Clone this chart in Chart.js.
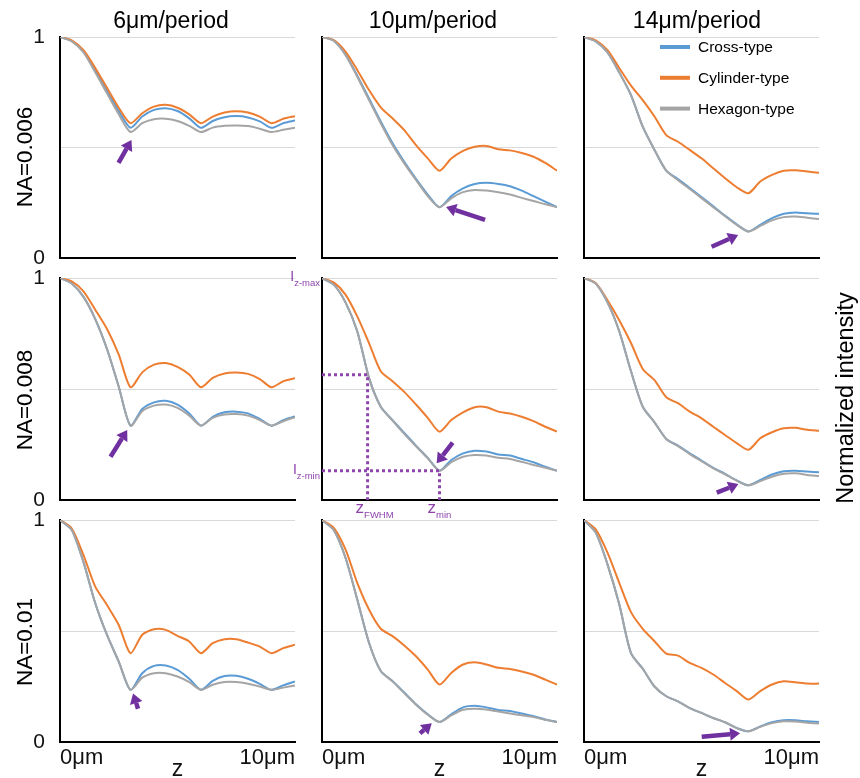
<!DOCTYPE html>
<html>
<head>
<meta charset="utf-8">
<script src="https://cdn.jsdelivr.net/npm/chart.js@4"></script>
<style>
  html,body{margin:0;padding:0;background:#fff;}
  body{width:860px;height:778px;overflow:hidden;position:relative;font-family:"Liberation Sans",Arial,sans-serif;color:#000;}
  canvas{position:absolute;}
  .title{position:absolute;top:9px;font-size:23px;line-height:1;white-space:nowrap;transform:translateX(-50%);}
  .rot{position:absolute;line-height:1;white-space:nowrap;transform:translate(-50%,-50%) rotate(-90deg);}
</style>
</head>
<body>
<script>
// ---------------- DATA ----------------
const zValues = [0,0.5,1,1.5,2,2.5,3,3.5,4,4.5,5,5.5,6,6.5,7,7.5,8,8.5,9,9.5,10];
const periodTitles = ['6μm/period','10μm/period','14μm/period'];
const apertureTitles = ['NA=0.006','NA=0.008','NA=0.01'];
const seriesNames = ['Cross-type','Cylinder-type','Hexagon-type'];
const xTickValues = [0,10];
const xTickLabels = ['0μm','10μm'];
const yTickValues = [0,0.5,1];
const yTickLabels = ['0','','1'];
const xAxisTitle = 'z';
const sideTitle = 'Normalized intensity';

// NA=0.006
const cross_na006_p6  = [1,0.983,0.935,0.85,0.755,0.665,0.589,0.64,0.67,0.678,0.665,0.632,0.589,0.62,0.637,0.642,0.636,0.618,0.589,0.61,0.622];
const cyl_na006_p6    = [1,0.985,0.94,0.86,0.77,0.68,0.61,0.655,0.685,0.693,0.68,0.65,0.61,0.64,0.658,0.664,0.658,0.64,0.61,0.63,0.642];
const hex_na006_p6    = [1,0.98,0.93,0.84,0.745,0.65,0.57,0.61,0.628,0.63,0.62,0.598,0.57,0.59,0.598,0.60,0.597,0.585,0.57,0.58,0.589];
const cross_na006_p10 = [1,0.983,0.92,0.825,0.722,0.618,0.52,0.435,0.358,0.287,0.23,0.28,0.315,0.335,0.34,0.335,0.325,0.305,0.28,0.255,0.23];
const cyl_na006_p10   = [1,0.986,0.934,0.851,0.76,0.682,0.632,0.579,0.511,0.451,0.395,0.45,0.485,0.503,0.507,0.492,0.487,0.475,0.458,0.43,0.395];
const hex_na006_p10   = [1,0.983,0.919,0.82,0.715,0.61,0.511,0.428,0.353,0.28,0.23,0.27,0.298,0.308,0.305,0.298,0.287,0.272,0.258,0.243,0.23];
const cross_na006_p14 = [1,0.98,0.93,0.84,0.737,0.594,0.489,0.395,0.357,0.317,0.276,0.234,0.192,0.152,0.12,0.15,0.18,0.2,0.206,0.202,0.2];
const cyl_na006_p14   = [1,0.985,0.94,0.86,0.78,0.714,0.64,0.556,0.526,0.489,0.451,0.406,0.361,0.32,0.293,0.346,0.376,0.395,0.397,0.391,0.386];
const hex_na006_p14   = [1,0.98,0.93,0.84,0.737,0.594,0.489,0.395,0.352,0.312,0.271,0.23,0.189,0.15,0.12,0.145,0.17,0.185,0.188,0.182,0.176];
// NA=0.008
const cross_na008_p6  = [1,0.975,0.915,0.815,0.68,0.51,0.335,0.41,0.44,0.447,0.43,0.39,0.335,0.375,0.395,0.398,0.39,0.365,0.335,0.36,0.376];
const cyl_na008_p6    = [1,0.985,0.94,0.857,0.77,0.655,0.508,0.575,0.61,0.617,0.60,0.565,0.508,0.55,0.57,0.574,0.568,0.545,0.508,0.535,0.549];
const hex_na008_p6    = [1,0.975,0.915,0.815,0.68,0.51,0.335,0.40,0.425,0.43,0.415,0.38,0.335,0.37,0.385,0.387,0.38,0.36,0.335,0.355,0.373];
const cross_na008_p10 = [1,0.97,0.89,0.76,0.55,0.42,0.36,0.302,0.245,0.19,0.132,0.18,0.21,0.222,0.218,0.205,0.2,0.185,0.17,0.15,0.132];
const cyl_na008_p10   = [1,0.98,0.925,0.827,0.707,0.58,0.535,0.487,0.43,0.37,0.308,0.36,0.395,0.418,0.418,0.398,0.39,0.375,0.355,0.33,0.308];
const hex_na008_p10   = [1,0.97,0.89,0.76,0.55,0.42,0.358,0.298,0.242,0.188,0.132,0.17,0.195,0.203,0.20,0.19,0.185,0.172,0.158,0.145,0.132];
const cross_na008_p14 = [1,0.975,0.89,0.76,0.58,0.42,0.35,0.275,0.245,0.21,0.178,0.145,0.118,0.088,0.066,0.09,0.115,0.13,0.132,0.128,0.125];
const cyl_na008_p14   = [1,0.977,0.90,0.81,0.707,0.59,0.54,0.463,0.436,0.398,0.368,0.33,0.293,0.256,0.226,0.278,0.305,0.323,0.325,0.316,0.312];
const hex_na008_p14   = [1,0.975,0.89,0.76,0.58,0.42,0.35,0.275,0.243,0.207,0.175,0.143,0.116,0.087,0.066,0.085,0.105,0.118,0.12,0.113,0.108];
// NA=0.01
const cross_na010_p6  = [1,0.955,0.81,0.625,0.482,0.362,0.235,0.31,0.343,0.345,0.325,0.285,0.235,0.275,0.297,0.298,0.285,0.262,0.235,0.255,0.273];
const cyl_na010_p6    = [1,0.962,0.842,0.70,0.617,0.527,0.40,0.483,0.508,0.505,0.478,0.453,0.40,0.445,0.463,0.463,0.448,0.43,0.40,0.423,0.438];
const hex_na010_p6    = [1,0.955,0.81,0.625,0.482,0.362,0.235,0.29,0.31,0.31,0.295,0.27,0.235,0.258,0.27,0.27,0.262,0.25,0.235,0.245,0.255];
const cross_na010_p10 = [1,0.955,0.83,0.642,0.447,0.32,0.275,0.223,0.17,0.125,0.09,0.125,0.156,0.163,0.156,0.144,0.14,0.128,0.116,0.101,0.09];
const cyl_na010_p10   = [1,0.965,0.868,0.717,0.597,0.51,0.477,0.435,0.386,0.326,0.259,0.311,0.349,0.359,0.349,0.334,0.329,0.318,0.303,0.281,0.259];
const hex_na010_p10   = [1,0.955,0.83,0.642,0.447,0.32,0.273,0.22,0.168,0.123,0.09,0.12,0.145,0.15,0.146,0.137,0.128,0.12,0.112,0.10,0.09];
const cross_na010_p14 = [1,0.943,0.80,0.62,0.40,0.33,0.25,0.206,0.183,0.153,0.131,0.108,0.089,0.063,0.048,0.07,0.089,0.098,0.098,0.093,0.09];
const cyl_na010_p14   = [1,0.958,0.853,0.717,0.585,0.51,0.454,0.398,0.389,0.356,0.334,0.304,0.266,0.229,0.191,0.229,0.259,0.274,0.269,0.263,0.263];
const hex_na010_p14   = [1,0.943,0.80,0.62,0.40,0.33,0.25,0.206,0.183,0.153,0.131,0.108,0.089,0.063,0.048,0.068,0.085,0.093,0.092,0.087,0.083];

// annotation anchors (data units): [tailZ, tailI, headZ, headI]
const arrow_na006_p6  = [2.49,0.43,3.04,0.534];
const arrow_na006_p10 = [6.94,0.172,5.28,0.231];
const arrow_na006_p14 = [5.43,0.051,6.56,0.104];
const arrow_na008_p6  = [2.15,0.195,2.86,0.315];
const arrow_na008_p10 = [5.56,0.258,4.88,0.165];
const arrow_na008_p14 = [5.65,0.033,6.57,0.072];
const arrow_na010_p6  = [3.32,0.15,3.11,0.219];
const arrow_na010_p10 = [4.17,0.039,4.67,0.084];
const arrow_na010_p14 = [5.01,0.024,6.64,0.039];
// FWHM / minimum guide (NA=0.008, 10μm)
const guideFWHM = [1.94,0.564];
const guideMin  = [5.0,0.132];

// ---------------- LAYOUT / STYLE ----------------
const colors = ['#5B9BD5','#ED7D31','#A5A5A5'];
const FONT = "'Liberation Sans', Arial, sans-serif";
Chart.defaults.font.family = FONT;
Chart.defaults.color = '#000';
const colX = [60,322,584];
const rowY = [37,278,520];
const rowH = [221,222,222];
const areaW = 235;
const PADL = 50, PADT = 12, PADR = 12;
const PURPLE = '#7030A0';
const PURPLE_T = '#8E44AD';

const panels = [
  {r:0,c:0,s:[cross_na006_p6,cyl_na006_p6,hex_na006_p6],arrow:arrow_na006_p6},
  {r:0,c:1,s:[cross_na006_p10,cyl_na006_p10,hex_na006_p10],arrow:arrow_na006_p10},
  {r:0,c:2,s:[cross_na006_p14,cyl_na006_p14,hex_na006_p14],arrow:arrow_na006_p14,legend:true},
  {r:1,c:0,s:[cross_na008_p6,cyl_na008_p6,hex_na008_p6],arrow:arrow_na008_p6},
  {r:1,c:1,s:[cross_na008_p10,cyl_na008_p10,hex_na008_p10],arrow:arrow_na008_p10,guides:true},
  {r:1,c:2,s:[cross_na008_p14,cyl_na008_p14,hex_na008_p14],arrow:arrow_na008_p14},
  {r:2,c:0,s:[cross_na010_p6,cyl_na010_p6,hex_na010_p6],arrow:arrow_na010_p6},
  {r:2,c:1,s:[cross_na010_p10,cyl_na010_p10,hex_na010_p10],arrow:arrow_na010_p10},
  {r:2,c:2,s:[cross_na010_p14,cyl_na010_p14,hex_na010_p14],arrow:arrow_na010_p14}
];

const annotPlugin = {
  id: 'annot',
  afterDatasetsDraw(chart, args, opts) {
    const ctx = chart.ctx, xs = chart.scales.x, ys = chart.scales.y, ca = chart.chartArea;
    const P = (x,y) => [xs.getPixelForValue(x), ys.getPixelForValue(y)];
    ctx.save();
    if (opts.guides) {
      ctx.strokeStyle = PURPLE_T; ctx.lineWidth = 3; ctx.setLineDash([3,3]);
      [guideFWHM, guideMin].forEach(g => {
        const [gx, gy] = P(g[0], g[1]);
        const [x0, y0] = P(0, 0);
        ctx.beginPath(); ctx.moveTo(x0, gy); ctx.lineTo(gx, gy); ctx.lineTo(gx, y0); ctx.stroke();
      });
      ctx.setLineDash([]);
      ctx.fillStyle = PURPLE_T; ctx.textBaseline = 'alphabetic';
      const drawI = (val, sub) => {
        const [, y] = P(0, val);
        ctx.font = '9.5px ' + FONT; ctx.textAlign = 'right';
        const w = ctx.measureText(sub).width;
        ctx.fillText(sub, ca.left - 2, y + 8);
        ctx.font = '14px ' + FONT;
        ctx.fillText('I', ca.left - 2 - w, y + 3);
      };
      drawI(1, 'z-max');
      drawI(guideMin[1], 'z-min');
      const drawZ = (val, sub) => {
        const [x] = P(val, 0);
        const yb = ca.bottom + 13;
        ctx.textAlign = 'left';
        ctx.font = '17px ' + FONT;
        const wz = ctx.measureText('z').width;
        ctx.fillText('z', x - 12, yb);
        ctx.font = '9.5px ' + FONT;
        ctx.fillText(sub, x - 12 + wz, yb + 5);
      };
      drawZ(guideFWHM[0], 'FWHM');
      drawZ(guideMin[0], 'min');
    }
    if (opts.arrow) {
      const a = opts.arrow;
      const [x1, y1] = P(a[0], a[1]);
      const [x2, y2] = P(a[2], a[3]);
      const ang = Math.atan2(y2 - y1, x2 - x1);
      const hl = 10, hw = 6.5;
      const bx = x2 - hl * Math.cos(ang), by = y2 - hl * Math.sin(ang);
      ctx.strokeStyle = PURPLE; ctx.fillStyle = PURPLE; ctx.lineWidth = 4.5; ctx.lineCap = 'butt';
      ctx.beginPath(); ctx.moveTo(x1, y1); ctx.lineTo(bx, by); ctx.stroke();
      ctx.beginPath();
      ctx.moveTo(x2, y2);
      ctx.lineTo(bx + hw * Math.sin(ang), by - hw * Math.cos(ang));
      ctx.lineTo(bx - hw * Math.sin(ang), by + hw * Math.cos(ang));
      ctx.closePath(); ctx.fill();
    }
    if (opts.legend) {
      chart.data.datasets.forEach((ds, i) => {
        const y = ca.top + 10 + i * 30.8;
        ctx.strokeStyle = ds.borderColor; ctx.lineWidth = 4; ctx.lineCap = 'butt';
        ctx.beginPath(); ctx.moveTo(ca.left + 76, y); ctx.lineTo(ca.left + 106, y); ctx.stroke();
        ctx.fillStyle = '#000'; ctx.font = '15.5px ' + FONT; ctx.textAlign = 'left'; ctx.textBaseline = 'middle';
        ctx.fillText(ds.label, ca.left + 114, y + 1);
      });
    }
    ctx.restore();
  }
};

panels.forEach(p => {
  const bottomRow = p.r === 2;
  const xH = bottomRow ? 45 : 22;
  const W = PADL + areaW + PADR;
  const H = PADT + rowH[p.r] + xH;
  const cv = document.createElement('canvas');
  cv.width = W; cv.height = H;
  cv.style.left = (colX[p.c] - PADL) + 'px';
  cv.style.top = (rowY[p.r] - PADT) + 'px';
  cv.style.width = W + 'px'; cv.style.height = H + 'px';
  document.body.appendChild(cv);
  const orders = [3, 2, 1];
  new Chart(cv, {
    type: 'line',
    data: {
      datasets: p.s.map((arr, i) => ({
        label: seriesNames[i],
        data: arr.map((v, k) => ({x: zValues[k], y: v})),
        borderColor: colors[i],
        backgroundColor: colors[i],
        borderWidth: 2,
        pointRadius: 0,
        tension: 0.25,
        fill: false,
        order: orders[i]
      }))
    },
    options: {
      responsive: false,
      maintainAspectRatio: false,
      animation: false,
      devicePixelRatio: 1,
      layout: {padding: {left: 0, top: PADT, right: PADR, bottom: 0}},
      plugins: {
        legend: {display: false},
        tooltip: {enabled: false},
        annot: {arrow: p.arrow, legend: !!p.legend, guides: !!p.guides}
      },
      scales: {
        x: {
          type: 'linear', min: 0, max: 10,
          afterBuildTicks: s => { s.ticks = xTickValues.map(v => ({value: v})); },
          afterFit: s => { s.height = xH; s.paddingLeft = 0; s.paddingRight = 0; },
          grid: {display: false, drawTicks: false},
          border: {display: true, color: '#000', width: 2},
          ticks: {
            display: bottomRow, align: 'inner', padding: 3, maxRotation: 0, autoSkip: false,
            font: {size: 22}, color: '#111',
            callback: v => xTickLabels[xTickValues.indexOf(v)]
          },
          title: {display: bottomRow, text: xAxisTitle, font: {size: 23}, color: '#111', padding: {top: 0, bottom: 4}}
        },
        y: {
          type: 'linear', min: 0, max: 1,
          afterBuildTicks: s => { s.ticks = yTickValues.map(v => ({value: v})); },
          afterFit: s => { s.width = PADL; s.paddingTop = 0; s.paddingBottom = 0; },
          grid: {
            drawTicks: false,
            color: c => (c.tick && c.tick.value === 0) ? 'rgba(0,0,0,0)' : '#d9d9d9',
            lineWidth: 1
          },
          border: {display: true, color: '#000', width: 2},
          ticks: {
            display: p.c === 0, padding: 15, font: {size: 21}, color: '#111', autoSkip: false,
            callback: v => yTickLabels[yTickValues.indexOf(v)]
          }
        }
      }
    },
    plugins: [annotPlugin]
  });
});

// Text labels
const tcx = [171, 433, 697];
periodTitles.forEach((t, i) => {
  const d = document.createElement('div');
  d.className = 'title'; d.textContent = t; d.style.left = tcx[i] + 'px';
  document.body.appendChild(d);
});
const ncy = [157, 400, 642];
apertureTitles.forEach((t, i) => {
  const d = document.createElement('div');
  d.className = 'rot'; d.textContent = t;
  d.style.left = '25px'; d.style.top = ncy[i] + 'px'; d.style.fontSize = '22.5px';
  document.body.appendChild(d);
});
const side = document.createElement('div');
side.className = 'rot'; side.textContent = sideTitle;
side.style.left = '846px'; side.style.top = '398px'; side.style.fontSize = '23.5px';
document.body.appendChild(side);
</script>
</body>
</html>
